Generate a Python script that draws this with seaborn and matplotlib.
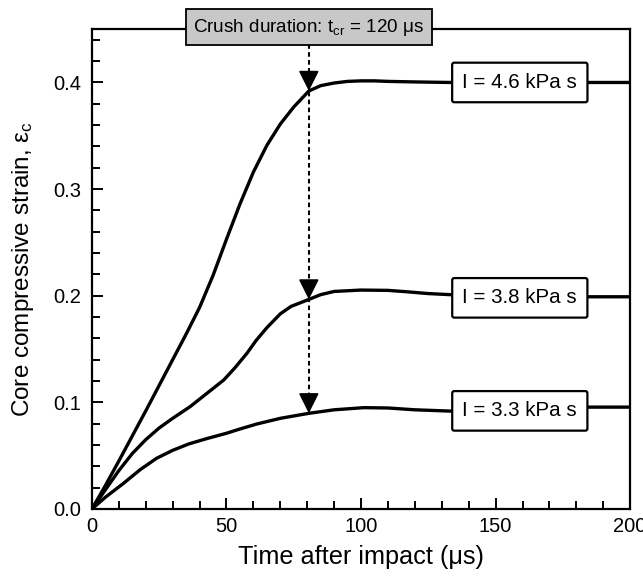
import matplotlib
matplotlib.use("Agg")
import matplotlib.pyplot as plt
import seaborn as sns
import pandas as pd

# time (us) vs core strain
t_46 = [0, 5, 10, 20, 30, 35, 40, 45, 50, 55, 60, 65, 70, 75, 80.6, 85, 90, 95, 100, 105, 110, 120, 133, 150, 175, 200]
e_46 = [0, 0.022, 0.045, 0.092, 0.140, 0.164, 0.189, 0.219, 0.253, 0.286, 0.316, 0.341, 0.361, 0.377, 0.392,
        0.397, 0.3995, 0.401, 0.4015, 0.4015, 0.401, 0.4005, 0.400, 0.400, 0.400, 0.400]

t_38 = [0, 5, 10, 15, 20, 25, 30, 36.5, 42, 49, 53, 57.6, 61, 65, 70, 74, 80.6, 85, 90, 100, 110, 117, 125, 133,
        150, 183, 200]
e_38 = [0, 0.018, 0.036, 0.052, 0.065, 0.076, 0.085, 0.096, 0.107, 0.121, 0.132, 0.146, 0.158, 0.170, 0.183,
        0.190, 0.1965, 0.201, 0.204, 0.2053, 0.205, 0.2037, 0.202, 0.201, 0.200, 0.199, 0.199]

t_33 = [0, 5, 11.7, 18, 24, 30, 36, 42.7, 50, 55, 61.3, 70, 80.6, 90, 101, 110, 120, 133, 140, 183, 200]
e_33 = [0, 0.011, 0.024, 0.037, 0.0475, 0.055, 0.061, 0.066, 0.071, 0.075, 0.0797, 0.085, 0.0897, 0.093,
        0.095, 0.0947, 0.093, 0.0918, 0.092, 0.0955, 0.0955]

labels = ["I = 4.6 kPa s", "I = 3.8 kPa s", "I = 3.3 kPa s"]
label_y = [0.40, 0.198, 0.092]
t_crush = 80.6
arrow_tips = [0.392, 0.1965, 0.0897]

sns.set_theme(style="ticks")
plt.rcParams['font.family'] = ['Liberation Sans', 'DejaVu Sans']
plt.rcParams['mathtext.default'] = 'regular'
for k in ['text.color', 'axes.labelcolor', 'xtick.color', 'ytick.color', 'axes.edgecolor']:
    plt.rcParams[k] = 'black'

fig = plt.figure(figsize=(6.43, 5.83), dpi=100)
ax = fig.add_axes([0.143, 0.127, 0.837, 0.823])

for tt, ee in [(t_46, e_46), (t_38, e_38), (t_33, e_33)]:
    df = pd.DataFrame({'t': tt, 'e': ee})
    sns.lineplot(data=df, x='t', y='e', ax=ax, color='black', lw=2.4, estimator=None, sort=False, zorder=3)

ax.set_xlim(0, 200)
ax.set_ylim(0, 0.45)
ax.set_xticks([0, 50, 100, 150, 200])
ax.set_xticks(range(0, 201, 10), minor=True)
ax.set_yticks([0.0, 0.1, 0.2, 0.3, 0.4])
ax.set_yticks([i * 0.02 for i in range(23)], minor=True)
ax.set_yticklabels(['0.0', '0.1', '0.2', '0.3', '0.4'])
ax.tick_params(which='major', direction='in', length=8, width=1.4, labelsize=14.5, pad=6)
ax.tick_params(which='minor', direction='in', length=5.5, width=1.4)
ax.tick_params(axis='y', pad=8)
for s in ax.spines.values():
    s.set_linewidth(1.6)

ax.set_xlabel("Time after impact (μs)", fontsize=18.2, labelpad=6)
ax.set_ylabel("Core compressive strain, ε$_c$", fontsize=17.5, labelpad=12)

# dashed crush-duration line with arrows
ax.vlines(t_crush, arrow_tips[-1], 0.45, colors='black', linestyles=(0, (2.2, 1.6)), lw=1.5, zorder=2)
for tip in arrow_tips:
    ax.annotate('', xy=(t_crush, tip), xytext=(t_crush, tip + 0.012),
                arrowprops=dict(arrowstyle='-|>,head_length=0.7,head_width=0.35', color='black',
                                lw=1.2, shrinkA=0, shrinkB=0, mutation_scale=18), zorder=4)

ax.text(t_crush, 0.452, "Crush duration: t$_{cr}$ = 120 μs", ha='center', va='center', fontsize=13.6,
        clip_on=False, zorder=6,
        bbox=dict(boxstyle='square,pad=0.4', facecolor='#c8c8c8', edgecolor='black', lw=1.3))

for lab, yy in zip(labels, label_y):
    ax.text(159, yy, lab, ha='center', va='center', fontsize=14.8, zorder=6,
            bbox=dict(boxstyle='round,pad=0.5,rounding_size=0.1', facecolor='white', edgecolor='black', lw=1.6))

plt.savefig("out.png", dpi=100)
